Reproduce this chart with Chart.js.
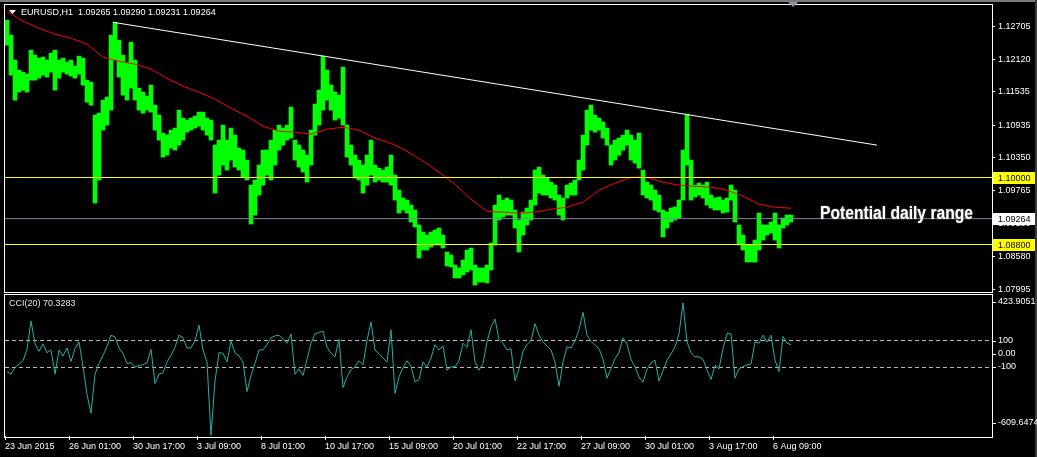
<!DOCTYPE html>
<html>
<head>
<meta charset="utf-8">
<title>EURUSD,H1</title>
<script src="https://cdn.jsdelivr.net/npm/chart.js"></script>
<style>
  body { margin:0; background:#000; width:1037px; height:457px; overflow:hidden; position:relative; }
  canvas { position:absolute; left:0; }
  #priceChart { top:0; }
  #cciChart { top:293px; }
</style>
</head>
<body>
<canvas id="priceChart" width="1037" height="293"></canvas>
<canvas id="cciChart" width="1037" height="164"></canvas>
<script>
// EURUSD H1, one sample = 4 hourly bars (high / low of the group)
var hi = [1.12818,1.12549,1.12102,1.11923,1.11887,1.11851,1.12281,1.12191,1.12138,1.12156,
  1.12102,1.12227,1.12281,1.12102,1.12138,1.12066,1.12102,1.11995,1.12174,1.12138,
  1.11744,1.11708,1.11118,1.11153,1.11386,1.11440,1.12549,1.12782,1.12460,1.12191,
  1.12066,1.12424,1.12102,1.11601,1.11529,1.11458,1.11655,1.11297,1.11118,1.10795,
  1.10759,1.10849,1.10885,1.11207,1.11064,1.11028,1.11064,1.11100,1.11171,1.11171,
  1.11064,1.11028,1.10581,1.10670,1.10938,1.10670,1.10885,1.10759,1.10527,1.10491,
  1.10312,1.09864,1.09954,1.10222,1.10491,1.10491,1.10670,1.10849,1.10938,1.10885,
  1.10938,1.11261,1.10670,1.10581,1.10491,1.10401,1.10849,1.11314,1.11565,1.12174,
  1.11923,1.11655,1.11529,1.11476,1.11977,1.10938,1.10581,1.10401,1.10312,1.10222,
  1.10401,1.10670,1.10222,1.10168,1.10133,1.10186,1.10401,1.10044,1.09775,1.09632,
  1.09596,1.09506,1.09417,1.09149,1.09023,1.08969,1.09023,1.09059,1.09095,1.08969,
  1.08665,1.08611,1.08432,1.08379,1.08522,1.08701,1.08737,1.08432,1.08379,1.08379,
  1.08432,1.08826,1.09506,1.09686,1.09596,1.09632,1.09596,1.09417,1.09238,1.09381,
  1.09453,1.09596,1.10133,1.10186,1.10044,1.09990,1.09918,1.09864,1.09686,1.09632,
  1.09864,1.09900,1.09954,1.10312,1.10759,1.11207,1.11297,1.11118,1.11064,1.10992,
  1.10885,1.10581,1.10670,1.10706,1.10759,1.10849,1.10759,1.10670,1.10795,1.10133,
  1.09918,1.09864,1.09775,1.09686,1.09417,1.09381,1.09453,1.09471,1.09596,1.10491,
  1.11135,1.10312,1.09864,1.09900,1.09864,1.09918,1.09686,1.09632,1.09650,1.09596,
  1.09632,1.09864,1.09775,1.09149,1.08969,1.08791,1.08791,1.08880,1.09363,1.09149,
  1.09149,1.09202,1.09363,1.09149,1.09274,1.09328,1.09328];
var lo = [1.12370,1.11833,1.11386,1.11529,1.11565,1.11529,1.11744,1.11744,1.11780,1.11833,
  1.11798,1.11887,1.11565,1.11780,1.11887,1.11851,1.11816,1.11780,1.11851,1.11654,
  1.11350,1.11296,1.09542,1.09954,1.10849,1.10938,1.11207,1.12102,1.11798,1.11476,
  1.11386,1.11601,1.11386,1.11207,1.11153,1.11207,1.11171,1.10849,1.10670,1.10365,
  1.10401,1.10527,1.10491,1.10581,1.10670,1.10813,1.10849,1.10885,1.10921,1.10849,
  1.10759,1.10670,1.09721,1.10044,1.10222,1.10133,1.10312,1.10186,1.10133,1.10008,
  1.09954,1.09166,1.09328,1.09686,1.09864,1.10044,1.09954,1.10222,1.10491,1.10581,
  1.10670,1.10706,1.10312,1.10186,1.10097,1.09918,1.10222,1.10759,1.10938,1.11207,
  1.11386,1.11207,1.11028,1.11064,1.10938,1.10365,1.10222,1.09990,1.09954,1.09721,
  1.09864,1.10044,1.09918,1.09954,1.09918,1.09918,1.09864,1.09596,1.09363,1.09417,
  1.09363,1.09202,1.09113,1.08558,1.08701,1.08701,1.08755,1.08791,1.08791,1.08737,
  1.08415,1.08397,1.08200,1.08200,1.08254,1.08307,1.08343,1.08074,1.08128,1.08128,
  1.08110,1.08343,1.08791,1.09238,1.09292,1.09328,1.09328,1.09095,1.08665,1.08969,
  1.09149,1.09238,1.09506,1.09721,1.09686,1.09686,1.09632,1.09596,1.09328,1.09238,
  1.09632,1.09686,1.09686,1.09954,1.10133,1.10581,1.10849,1.10813,1.10849,1.10706,
  1.10581,1.10222,1.10312,1.10401,1.10491,1.10581,1.10312,1.10258,1.10168,1.09686,
  1.09632,1.09596,1.09417,1.09381,1.08934,1.09095,1.09202,1.09238,1.09274,1.09596,
  1.10222,1.09596,1.09650,1.09686,1.09632,1.09506,1.09453,1.09417,1.09417,1.09363,
  1.09381,1.09596,1.09202,1.08791,1.08701,1.08486,1.08486,1.08486,1.08701,1.08880,
  1.08969,1.09005,1.08880,1.08737,1.09095,1.09149,1.09202];

// moving average, one value every maStep samples
var maStep = 4;
var ma = [1.12979,1.12800,1.12674,1.12567,1.12495,1.12388,1.12155,1.12083,1.12029,1.11940,
  1.11779,1.11635,1.11528,1.11403,1.11241,1.11098,1.10919,1.10829,1.10811,1.10776,
  1.10865,1.10901,1.10847,1.10704,1.10614,1.10471,1.10292,1.10095,1.09880,1.09611,
  1.09396,1.09379,1.09361,1.09379,1.09432,1.09468,1.09558,1.09773,1.09898,1.10005,
  1.10005,1.09916,1.09862,1.09844,1.09826,1.09773,1.09665,1.09522,1.09468,1.09450];

// trend line (sample index, price)
var trendX = [26.5, 217.5];
var trendY = [1.1278, 1.1058];

var levels = [1.10000, 1.08800];
var lastPrice = 1.09264;
var priceTicks = [1.12705, 1.12120, 1.11535, 1.10935, 1.10350, 1.09765, 1.09180, 1.08580, 1.07995];

var cci = [-130,-150,-100,-75,-50,35,245,77,20,75,10,30,-150,30,-15,45,-55,40,90,-90,
  -300,-441,-150,-70,-10,55,140,127,45,5,-70,-65,-95,-85,-80,-65,35,-220,-150,-140,
  -60,-10,50,140,120,45,45,100,215,30,-60,-605,-200,10,5,-60,95,10,-15,-60,
  -280,-160,-70,30,30,70,120,135,140,110,80,150,-150,-110,-160,-40,80,150,160,170,
  50,5,-20,110,-250,-170,-115,-95,-50,-80,100,238,30,3,-30,-60,180,-293,-170,-100,
  -50,-90,-207,-190,-60,-95,-30,70,30,60,-120,-95,-95,-50,80,50,180,-58,-120,-70,
  90,200,260,110,80,30,40,-200,-110,20,70,100,226,140,90,60,30,-60,-240,-60,
  53,45,100,180,310,140,95,65,40,-40,-180,-110,-34,10,120,75,-40,-95,-170,-210,
  -115,-65,-46,-200,-125,-45,0,53,150,380,90,10,-21,-21,-40,-120,-190,-85,-110,40,
  152,150,-180,-110,-95,-80,-75,90,80,140,90,140,-46,-130,130,80,70];
var cciLevels = [100, -100];
var cciTicks = [423.9051, 100, 0, -100, -609.6474];
var cciTickText = ['423.9051', '100', '0.00', '-100', '-609.6474'];

var barsPerLabel = 16;
var timeLabels = ['23 Jun 2015', '26 Jun 01:00', '30 Jun 17:00', '3 Jul 09:00', '8 Jul 01:00',
  '10 Jul 17:00', '15 Jul 09:00', '20 Jul 01:00', '22 Jul 17:00', '27 Jul 09:00',
  '30 Jul 01:00', '3 Aug 17:00', '6 Aug 09:00'];

var titleText = 'EURUSD,H1  1.09265 1.09290 1.09231 1.09264';
var cciTitle = 'CCI(20) 70.3283';
var note = { text: 'Potential daily range', x: 203.25, y: 1.09264 };

var xMin = -0.5, xMax = 246.25;

Chart.defaults.font.family = '"Liberation Sans", Arial, sans-serif';
Chart.defaults.font.size = 9;

function hline(v, color, dash, order) {
  return { type: 'line', data: [{x: xMin, y: v}, {x: xMax, y: v}], borderColor: color,
    borderWidth: 1, borderDash: dash, pointRadius: 0, order: order };
}

var priceDecor = {
  id: 'priceDecor',
  beforeDraw: function(chart) {
    var c = chart.ctx;
    c.save(); c.fillStyle = '#000'; c.fillRect(0, 0, chart.width, chart.height); c.restore();
  },
  afterDraw: function(chart) {
    var c = chart.ctx, a = chart.chartArea, ys = chart.scales.y, xs = chart.scales.x;
    c.save();
    c.fillStyle = '#7a7a7a';
    c.fillRect(0, 0, chart.width, 2);
    c.fillStyle = '#3a3a3a';
    c.fillRect(chart.width - 2, 0, 2, chart.height);
    c.strokeStyle = '#fff'; c.lineWidth = 1;
    c.strokeRect(a.left - 0.5, a.top - 0.5, a.right - a.left + 1, a.bottom - a.top + 2);

    // price tags on the axis
    var tags = [[levels[0], '#ffff00'], [lastPrice, '#ffffff'], [levels[1], '#ffff00']];
    c.font = '9px "Liberation Sans", Arial, sans-serif';
    c.textBaseline = 'middle'; c.textAlign = 'left';
    tags.forEach(function(t) {
      var py = Math.round(ys.getPixelForValue(t[0]));
      c.fillStyle = t[1];
      c.fillRect(a.right + 1, py - 6, 42, 12);
      c.fillStyle = '#000';
      c.fillText(t[0].toFixed(5), a.right + 6, py + 0.5);
    });

    // title
    c.fillStyle = '#fff';
    c.beginPath(); c.moveTo(9, 10); c.lineTo(16, 10); c.lineTo(12.5, 14); c.closePath(); c.fill();
    c.fillText(titleText, 21, 12.5);

    // chart shift marker
    var sx = xs.getPixelForValue(hi.length - 0.5);
    c.fillStyle = '#8a96a6';
    c.beginPath(); c.moveTo(sx - 5, 2); c.lineTo(sx + 5, 2); c.lineTo(sx, 7); c.closePath(); c.fill();

    // text label
    c.font = 'bold 18px "Liberation Sans", Arial, sans-serif';
    c.textBaseline = 'alphabetic';
    var w = c.measureText(note.text).width;
    c.translate(xs.getPixelForValue(note.x), ys.getPixelForValue(note.y));
    c.scale(153 / w, 1);
    c.shadowColor = 'rgba(140,140,140,0.9)'; c.shadowBlur = 2;
    c.fillStyle = '#fff';
    c.fillText(note.text, 0, 0);
    c.restore();
  }
};

new Chart(document.getElementById('priceChart'), {
  type: 'bar',
  data: {
    datasets: [
      { type: 'line', data: trendX.map(function(x, i) { return {x: x, y: trendY[i]}; }),
        borderColor: '#ffffff', borderWidth: 1, pointRadius: 0, order: 0 },
      hline(levels[0], '#ffff00', [], 1),
      hline(levels[1], '#ffff00', [], 1),
      hline(lastPrice, '#778899', [], 1),
      { type: 'line', data: ma.map(function(v, k) { return {x: k * maStep, y: v}; }),
        borderColor: '#ff0000', borderWidth: 1, pointRadius: 0, order: 2 },
      { type: 'bar', data: lo.map(function(l, i) { return {x: i, y: [l, hi[i]]}; }),
        backgroundColor: '#00ff00', borderWidth: 0, barPercentage: 1, categoryPercentage: 1, order: 3 }
    ]
  },
  options: {
    responsive: false, animation: false, events: [],
    layout: { padding: { left: 5, top: 5, right: 0, bottom: 2 } },
    plugins: { legend: { display: false }, tooltip: { enabled: false } },
    scales: {
      x: { type: 'linear', min: xMin, max: xMax, display: false, offset: false },
      y: {
        position: 'right', min: 1.079672, max: 1.130896, beginAtZero: false,
        grid: { drawOnChartArea: false, color: '#ffffff', tickLength: 3 },
        border: { display: false },
        ticks: { color: '#ffffff', padding: 3, callback: function(v) { return v.toFixed(5); } },
        afterBuildTicks: function(s) { s.ticks = priceTicks.map(function(v) { return {value: v}; }); },
        afterFit: function(s) { s.width = 45; s.paddingTop = 0; s.paddingBottom = 0; }
      }
    }
  },
  plugins: [priceDecor]
});

var cciDecor = {
  id: 'cciDecor',
  beforeDraw: function(chart) {
    var c = chart.ctx;
    c.save(); c.fillStyle = '#000'; c.fillRect(0, 0, chart.width, chart.height); c.restore();
  },
  afterDraw: function(chart) {
    var c = chart.ctx, a = chart.chartArea, ys = chart.scales.y;
    c.save();
    c.fillStyle = '#3a3a3a';
    c.fillRect(chart.width - 2, 0, 2, chart.height);
    c.strokeStyle = '#fff'; c.lineWidth = 1;
    c.strokeRect(a.left - 0.5, a.top - 2.5, a.right - a.left + 1, a.bottom - a.top + 4);
    c.font = '9px "Liberation Sans", Arial, sans-serif';
    c.textBaseline = 'middle'; c.textAlign = 'left';
    c.fillStyle = '#e6e6e6';
    c.fillText(cciTitle, 9, 11);
    c.fillStyle = '#fff';
    cciTicks.forEach(function(v, i) {
      var py = ys.getPixelForValue(v);
      py = Math.min(Math.max(py, a.top + 5), a.bottom - 13);
      py = Math.round(py);
      c.fillRect(a.right + 1, py, 3, 1);
      c.fillText(cciTickText[i], a.right + 6, py);
    });
    c.restore();
  }
};

new Chart(document.getElementById('cciChart'), {
  type: 'line',
  data: {
    datasets: [
      hline(cciLevels[0], '#c0c0c0', [4, 3], 1),
      hline(cciLevels[1], '#c0c0c0', [4, 3], 1),
      { data: cci.map(function(v, i) { return {x: i, y: v}; }), borderColor: '#20b2aa',
        borderWidth: 1, pointRadius: 0, tension: 0, order: 0 }
    ]
  },
  options: {
    responsive: false, animation: false, events: [],
    layout: { padding: { left: 5, top: 4, right: 45, bottom: 0 } },
    plugins: { legend: { display: false }, tooltip: { enabled: false } },
    scales: {
      x: {
        type: 'linear', min: xMin, max: xMax, offset: false,
        grid: { drawOnChartArea: false, color: '#ffffff', tickLength: 4, offset: false },
        border: { display: false },
        ticks: { color: '#ffffff', align: 'start', maxRotation: 0, autoSkip: false, padding: 1,
          callback: function(v, i) { return timeLabels[i]; } },
        afterBuildTicks: function(s) {
          s.ticks = timeLabels.map(function(t, k) { return {value: k * barsPerLabel - 0.5}; });
        },
        afterFit: function(s) { s.height = 21; s.paddingLeft = 0; s.paddingRight = 0; }
      },
      y: { display: false, min: cciTicks[4], max: cciTicks[0] }
    }
  },
  plugins: [cciDecor]
});
</script>
</body>
</html>
